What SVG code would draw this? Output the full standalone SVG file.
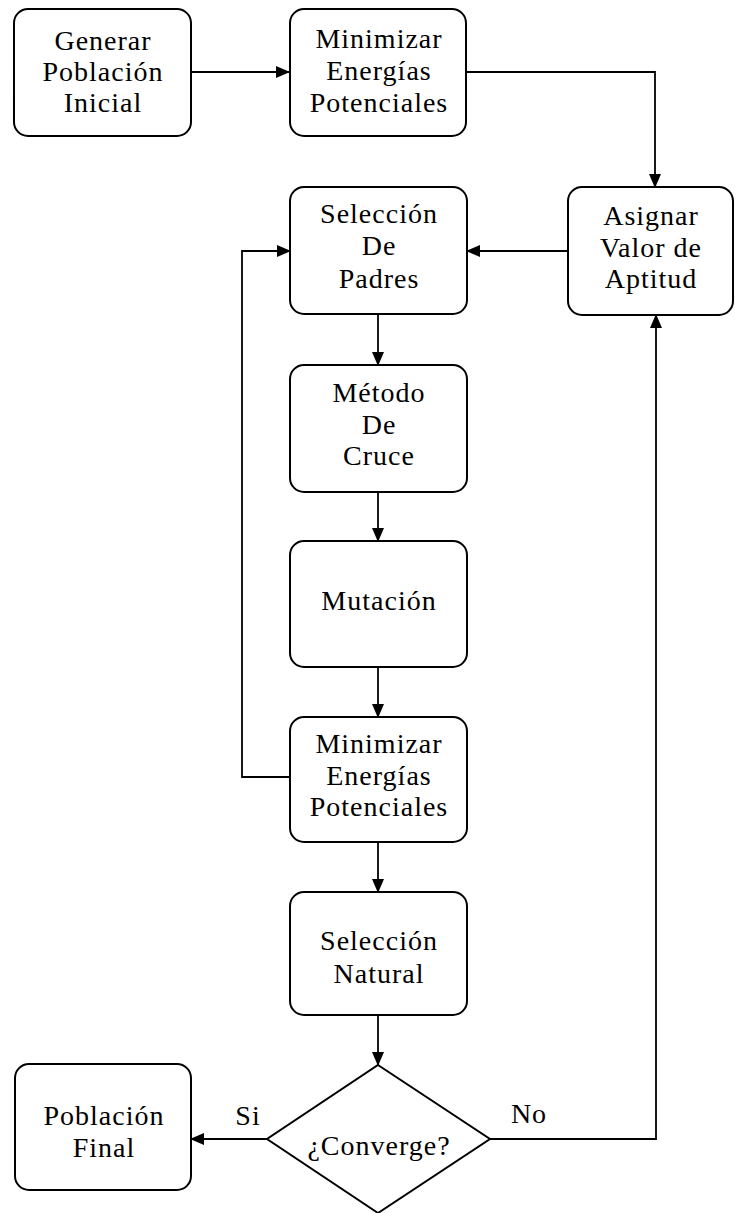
<svg xmlns="http://www.w3.org/2000/svg" width="735" height="1213" viewBox="0 0 735 1213">
<defs>
<marker id="ah" markerWidth="14" markerHeight="12" refX="13" refY="6" orient="auto" markerUnits="userSpaceOnUse">
<path d="M0,0 L14,6 L0,12 Z" fill="#000"/>
</marker>
<style>
.box{fill:#fff;stroke:#000;stroke-width:2}
.t{font-family:"Liberation Serif","Times New Roman",serif;font-size:28px;letter-spacing:1px;fill:#000;text-anchor:middle}
.c{fill:none;stroke:#000;stroke-width:1.8}
</style>
</defs>
<rect width="735" height="1213" fill="#fff"/>
<g id="connectors">
<path class="c" d="M191,72 H289" marker-end="url(#ah)"/>
<path class="c" d="M466,72 H655 V187" marker-end="url(#ah)"/>
<path class="c" d="M568,251 H467" marker-end="url(#ah)"/>
<path class="c" d="M378,314 V365" marker-end="url(#ah)"/>
<path class="c" d="M378,492 V541" marker-end="url(#ah)"/>
<path class="c" d="M378,667 V717" marker-end="url(#ah)"/>
<path class="c" d="M290,777 H242 V251 H290" marker-end="url(#ah)"/>
<path class="c" d="M378,842 V892" marker-end="url(#ah)"/>
<path class="c" d="M378,1015 V1065" marker-end="url(#ah)"/>
<path class="c" d="M267,1139 H191" marker-end="url(#ah)"/>
<path class="c" d="M490,1139 H656 V315" marker-end="url(#ah)"/>
</g>
<g id="n1"><rect class="box" x="14" y="9" width="177" height="127" rx="14"/>
<text class="t" x="103" y="50">Generar</text><text class="t" x="103" y="81">Población</text><text class="t" x="103" y="112">Inicial</text></g>
<g id="n2"><rect class="box" x="290" y="9" width="176" height="127" rx="14"/>
<text class="t" x="379" y="48">Minimizar</text><text class="t" x="379" y="80">Energías</text><text class="t" x="379" y="112">Potenciales</text></g>
<g id="n3"><rect class="box" x="568" y="187" width="165" height="128" rx="14"/>
<text class="t" x="651" y="225">Asignar</text><text class="t" x="651" y="257">Valor de</text><text class="t" x="651" y="288">Aptitud</text></g>
<g id="n4"><rect class="box" x="290" y="187" width="177" height="127" rx="14"/>
<text class="t" x="379" y="223">Selección</text><text class="t" x="379" y="255">De</text><text class="t" x="379" y="288">Padres</text></g>
<g id="n5"><rect class="box" x="290" y="365" width="177" height="127" rx="14"/>
<text class="t" x="379" y="402">Método</text><text class="t" x="379" y="434">De</text><text class="t" x="379" y="465">Cruce</text></g>
<g id="n6"><rect class="box" x="290" y="541" width="177" height="126" rx="14"/>
<text class="t" x="379" y="610">Mutación</text></g>
<g id="n7"><rect class="box" x="290" y="717" width="177" height="125" rx="14"/>
<text class="t" x="379" y="753">Minimizar</text><text class="t" x="379" y="785">Energías</text><text class="t" x="379" y="816">Potenciales</text></g>
<g id="n8"><rect class="box" x="290" y="892" width="177" height="123" rx="14"/>
<text class="t" x="379" y="950">Selección</text><text class="t" x="379" y="983">Natural</text></g>
<g id="n9"><path class="box" d="M378,1065 L490,1139 L378,1213 L267,1139 Z"/>
<text class="t" x="379" y="1155">¿Converge?</text></g>
<g id="n10"><rect class="box" x="15" y="1064" width="176" height="126" rx="14"/>
<text class="t" x="104" y="1125">Población</text><text class="t" x="104" y="1157">Final</text></g>
<g id="labels">
<text class="t" x="248" y="1125">Si</text>
<text class="t" x="529" y="1123">No</text>
</g>
</svg>
